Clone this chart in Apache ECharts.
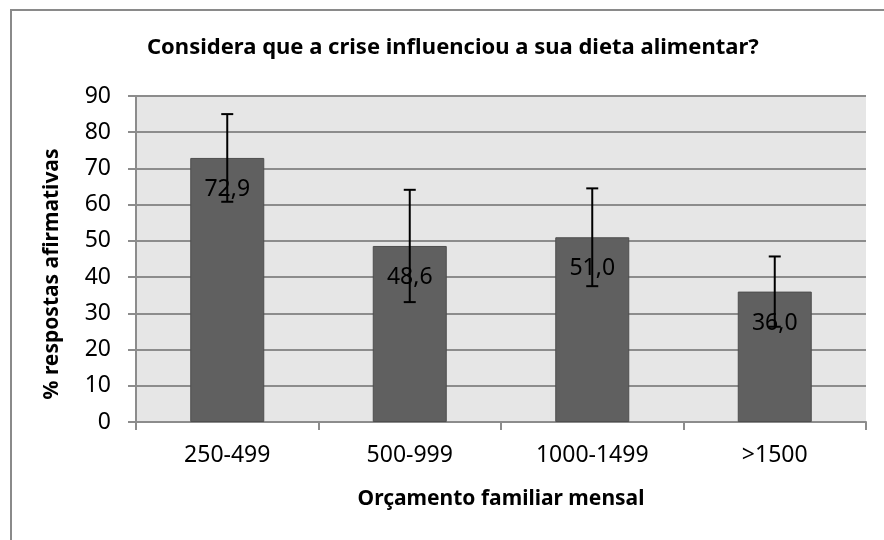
<!DOCTYPE html>
<html>
<head>
<meta charset="utf-8">
<script src="https://cdn.jsdelivr.net/npm/echarts@6/dist/echarts.min.js"></script>
<style>
  html, body { margin: 0; padding: 0; background: #fff; }
  #chart { width: 884px; height: 540px; }
</style>
</head>
<body>
<div id="chart"></div>
<script>
const categories = ["250-499", "500-999", "1000-1499", ">1500"];
const values = [72.9, 48.6, 51.0, 36.0];
// error margins (symmetric), read from the whiskers
const errors = [12.1, 15.5, 13.5, 9.7];
const yTicks = [0, 10, 20, 30, 40, 50, 60, 70, 80, 90];

const FONT = "'Noto Sans', sans-serif";

const errorData = values.map((v, i) => [i, v - errors[i], v + errors[i]]);

const chart = echarts.init(document.getElementById("chart"));

chart.setOption({
  animation: false,
  textStyle: { fontFamily: FONT },
  title: {
    text: "Considera que a crise influenciou a sua dieta alimentar?",
    left: 142,
    top: 32,
    textStyle: { fontFamily: FONT, fontSize: 22, fontWeight: "bold", color: "#000" },
  },
  graphic: [
    {
      type: "rect",
      shape: { x: 11, y: 10, width: 920, height: 580 },
      style: { fill: null, stroke: "#8a8a8a", lineWidth: 2 },
      silent: true,
    },
    // y axis title, placed by hand since Excel puts it a bit below the plot middle
    {
      type: "text",
      x: 52,
      y: 274,
      rotation: Math.PI / 2,
      style: {
        text: "% respostas afirmativas",
        fontFamily: FONT,
        fontSize: 21,
        fontWeight: "bold",
        fill: "#000",
        align: "center",
        verticalAlign: "middle",
      },
      silent: true,
    },
  ],
  grid: {
    left: 136,
    right: 18,
    top: 96,
    bottom: 118,
    show: true,
    backgroundColor: "#e6e6e6",
    borderWidth: 0,
  },
  xAxis: {
    type: "category",
    data: categories,
    name: "Orçamento familiar mensal",
    nameLocation: "middle",
    nameGap: 67,
    nameTextStyle: { fontFamily: FONT, fontSize: 21, fontWeight: "bold", color: "#000" },
    axisLine: { lineStyle: { color: "#8c8c8c", width: 2 } },
    axisTick: { show: true, length: 8, alignWithLabel: false, lineStyle: { color: "#8c8c8c", width: 2 } },
    axisLabel: { fontFamily: FONT, fontSize: 23, color: "#000", margin: 22 },
  },
  yAxis: {
    type: "value",
    min: yTicks[0],
    max: yTicks[yTicks.length - 1],
    interval: 10,
    axisLine: { show: true, lineStyle: { color: "#8c8c8c", width: 2 } },
    axisTick: { show: true, length: 8, lineStyle: { color: "#8c8c8c", width: 2 } },
    axisLabel: { fontFamily: FONT, fontSize: 23, color: "#000", margin: 25 },
    splitLine: { show: true, lineStyle: { color: "#8c8c8c", width: 2 } },
  },
  series: [
    {
      type: "bar",
      data: values,
      barWidth: 74,
      itemStyle: { color: "#606060", borderColor: "#4e4e4e", borderWidth: 1 },
      label: {
        show: true,
        position: "insideTop",
        distance: 20,
        fontFamily: FONT,
        fontSize: 23,
        color: "#000",
        formatter: (p) => p.value.toFixed(1).replace(".", ","),
      },
      z: 2,
    },
    {
      type: "custom",
      data: errorData,
      z: 5,
      renderItem: function (params, api) {
        const i = api.value(0);
        const lo = api.coord([i, api.value(1)]);
        const hi = api.coord([i, api.value(2)]);
        const half = 6;
        const style = { stroke: "#000", lineWidth: 2 };
        return {
          type: "group",
          children: [
            { type: "line", shape: { x1: hi[0], y1: hi[1], x2: lo[0], y2: lo[1] }, style },
            { type: "line", shape: { x1: hi[0] - half, y1: hi[1], x2: hi[0] + half, y2: hi[1] }, style },
            { type: "line", shape: { x1: lo[0] - half, y1: lo[1], x2: lo[0] + half, y2: lo[1] }, style },
          ],
        };
      },
    },
  ],
});
</script>
</body>
</html>
